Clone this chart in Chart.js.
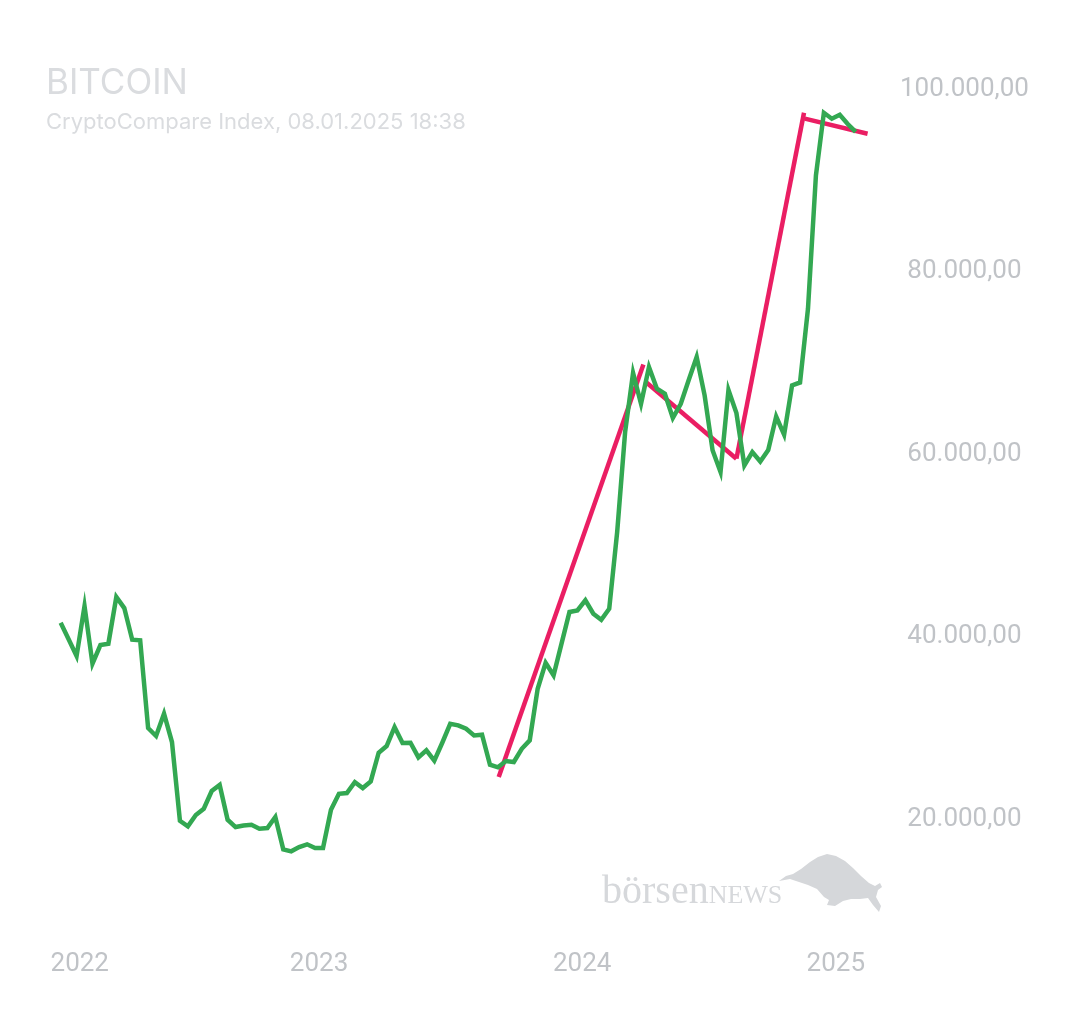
<!DOCTYPE html>
<html lang="de">
<head>
<meta charset="UTF-8">
<title>Bitcoin</title>
<script src="https://cdn.jsdelivr.net/npm/chart.js@4"></script>
<style>
  body { margin: 0; background: #fff; }
  .wrap { position: relative; width: 1080px; height: 1013px; }
  .title { position: absolute; left: 46px; top: 63.5px; font: 400 35px/1 Inter, sans-serif; color: #dadcdf; }
  .sub { position: absolute; left: 46px; top: 110.3px; font: 400 22px/1 Inter, sans-serif; color: #dadcdf; }
  .brand { position: absolute; left: 602px; top: 870px; font: 400 40px/1 "Liberation Serif", serif; color: #d6d8db; }
  .brand span { font-size: 26px; }
  .bull { position: absolute; left: 0; top: 0; }
</style>
</head>
<body>
<div class="wrap">
  <canvas id="chart" width="1080" height="1013"></canvas>
  <div class="title">BITCOIN</div>
  <div class="sub">CryptoCompare Index, 08.01.2025 18:38</div>
  <div class="brand">börsen<span>NEWS</span></div>
  <svg class="bull" width="1080" height="1013">
    <polygon fill="#d5d7da" points="779,881 786,876 793,874 801,869 810,862 818,857 827,854 836,856 845,861 853,868 861,876 869,883 875,886 880,883 882,887 878,890 876,897 881,906 879,912 873,905 868,898 860,899 851,899 843,901 835,906 827,905 829,900 824,897 817,889 808,885 799,882 790,879"/>
  </svg>
</div>
<script>
  // weekly-ish closes
  var btcValues = [41500, 39700, 37860, 43340, 37020, 39070, 39210, 44330, 43120, 39650,
    39580, 29970, 29100, 31540, 28440, 19810, 19200, 20440, 21130, 23070,
    23730, 19920, 19120, 19290, 19380, 18940, 19010, 20220, 16680, 16460,
    16930, 17230, 16820, 16820, 21020, 22770, 22850, 24050, 23400, 24130,
    27270, 28000, 30080, 28330, 28360, 26760, 27530, 26390, 28360, 30440,
    30270, 29900, 29170, 29240, 25950, 25670, 26360, 26250, 27700, 28620,
    34280, 37130, 35750, 39220, 42690, 42870, 43970, 42500, 41840, 43050,
    51450, 62410, 68880, 65510, 69540, 67160, 66610, 63950, 65510, 68110,
    70630, 66430, 60410, 58030, 67010, 64490, 58760, 60220, 59180, 60440,
    64110, 62120, 67530, 67840, 75920, 90540, 97400, 96750, 97180, 96170,
    95300];

  // trend lines (x in the same week index as btcValues)
  var trend1 = [{x: 55.1, y: 24600}, {x: 73.3, y: 69800}];
  var trend2 = [{x: 73.5, y: 67970}, {x: 85.0, y: 59490}];
  var trend3 = [{x: 85.0, y: 59490}, {x: 93.5, y: 97400}];
  var trend4 = [{x: 93.6, y: 96750}, {x: 101.5, y: 95100}];

  var yearLabels = ['2022', '2023', '2024', '2025'];
  var yearTickPos = [2.4, 32.5, 65.6, 97.5];
  var yTickValues = [20000, 40000, 60000, 80000, 100000];

  var green = '#33a852';
  var pink = '#ea1e63';
  var labelColor = '#c0c3c7';
  var tickFont = { family: 'Roboto', size: 26 };

  function fmt(v) {
    var s = String(Math.round(v));
    s = s.replace(/\B(?=(\d{3})+(?!\d))/g, '.');
    return s + ',00';
  }

  function trendSet(pts) {
    return { data: pts, borderColor: pink, borderWidth: 4.5, pointRadius: 0, tension: 0 };
  }

  var ctx = document.getElementById('chart').getContext('2d');
  var chart = new Chart(ctx, {
    type: 'line',
    data: {
      datasets: [
        {
          data: btcValues.map(function (v, i) { return { x: i, y: v }; }),
          borderColor: green, borderWidth: 4.5, pointRadius: 0, tension: 0
        },
        trendSet(trend1), trendSet(trend2), trendSet(trend3), trendSet(trend4)
      ]
    },
    options: {
      responsive: false,
      animation: false,
      layout: { padding: { left: 40, right: 0, top: 43.4, bottom: 32.5 } },
      plugins: { legend: { display: false }, tooltip: { enabled: false } },
      scales: {
        x: {
          type: 'linear', min: -2.6, max: 103.06,
          grid: { display: false, drawTicks: false },
          border: { display: false },
          afterBuildTicks: function (s) { s.ticks = yearTickPos.map(function (v) { return { value: v }; }); },
          afterFit: function (s) { s.height = 70.2; },
          ticks: {
            autoSkip: false, maxRotation: 0, padding: 39, font: tickFont, color: labelColor,
            callback: function (v, i) { return yearLabels[i]; }
          }
        },
        y: {
          position: 'right', min: 10000, max: 105000,
          grid: { display: false, drawTicks: false },
          border: { display: false },
          afterBuildTicks: function (s) { s.ticks = yTickValues.map(function (v) { return { value: v }; }); },
          afterFit: function (s) { s.width = 200; },
          ticks: { padding: 20, crossAlign: 'center', font: tickFont, color: labelColor, callback: fmt }
        }
      }
    }
  });
</script>
</body>
</html>
